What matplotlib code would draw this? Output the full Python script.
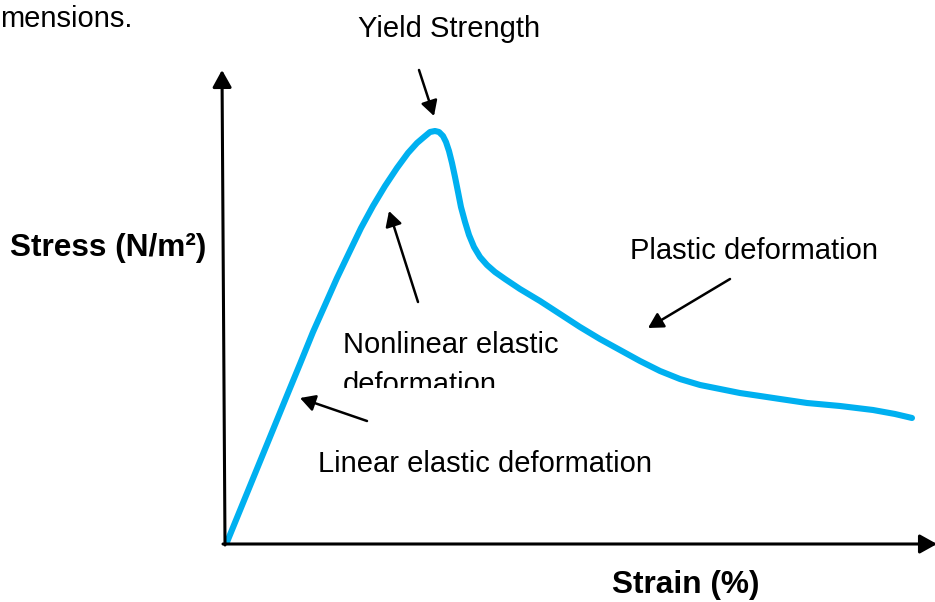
import matplotlib
matplotlib.use("Agg")
import matplotlib.pyplot as plt
from matplotlib.patches import FancyArrowPatch
from matplotlib.transforms import Bbox, TransformedBbox

# ---- data (arbitrary units: strain 0..100, stress 0..100) ----
strain = [0.29, 9.0, 10.71, 12.57, 14.29, 16.0, 17.71, 19.43, 21.14, 22.86,
          24.57, 26.14, 27.43, 28.43, 29.29, 30.0, 30.57, 31.14, 31.57, 32.0,
          32.43, 32.86, 33.29, 33.71, 34.29, 34.86, 35.57, 36.43, 37.43, 38.57,
          40.0, 42.14, 45.0, 47.86, 50.71, 53.57, 56.43, 59.29, 62.14, 65.0,
          67.86, 70.71, 73.57, 76.43, 79.29, 83.14, 87.86, 92.57, 95.71, 98.14]
stress = [0.21, 31.91, 38.09, 44.89, 50.64, 56.38, 61.70, 67.02, 71.70, 75.96,
          79.79, 82.98, 85.11, 86.38, 87.45, 87.66, 87.45, 86.60, 85.32, 83.40,
          80.85, 77.87, 74.68, 71.49, 68.30, 65.53, 62.98, 60.85, 59.15, 57.66,
          56.17, 54.04, 51.49, 48.72, 45.96, 43.40, 41.06, 38.72, 36.60, 34.89,
          33.62, 32.77, 31.91, 31.28, 30.64, 29.79, 29.15, 28.30, 27.45, 26.60]

x_label = "Strain (%)"
y_label = "Stress (N/m²)"
label_yield = "Yield Strength"
label_nonlinear_1 = "Nonlinear elastic"
label_nonlinear_2 = "deformation"
label_plastic = "Plastic deformation"
label_linear = "Linear elastic deformation"
header_text = "mensions."

W, H = 935, 602
plt.rcParams["font.family"] = ["Liberation Sans", "DejaVu Sans"]
fig = plt.figure(figsize=(W / 100, H / 100), dpi=100)

# axes frame: origin at pixel (225,543), 700 px wide, 470 px tall
ax = fig.add_axes([225 / W, (H - 543) / H, 700 / W, 470 / H])
ax.set_xlim(0, 100)
ax.set_ylim(0, 100)
ax.axis("off")

ax.plot(strain, stress, color="#00B0F0", lw=4.4, solid_capstyle="round",
        solid_joinstyle="round", clip_on=False, zorder=3)


def fp(x, y):
    """pixel (top-left origin) -> figure pixels"""
    return (x, H - y)


def arrow(x0, y0, x1, y1, ms=20, lw=1.8):
    fig.add_artist(FancyArrowPatch(
        posA=fp(x0, y0), posB=fp(x1, y1), transform=None,
        arrowstyle="-|>,head_length=0.45,head_width=0.25",
        mutation_scale=ms, lw=lw, color="black",
        shrinkA=0, shrinkB=0))


# axis arrows
arrow(225, 545, 222, 70, ms=23, lw=2.2)
arrow(223, 544, 937, 544, ms=23, lw=2.2)

# annotation arrows
arrow(419, 70, 434, 116)
arrow(418, 302, 389, 211)
arrow(730, 279, 648, 328)
arrow(367, 421, 300, 398)

fs = 21
fsb = 22.8


def txt(x, y, s, **kw):
    return fig.text(x / W, 1 - y / H, s, va="baseline", ha="left", **kw)


txt(0, 27, header_text, fontsize=fs)
txt(358, 37, label_yield, fontsize=fs)
txt(10, 256, y_label, fontsize=fsb, fontweight="bold")
txt(612, 593, x_label, fontsize=fsb, fontweight="bold")
txt(630, 259, label_plastic, fontsize=fs)
txt(318, 472, label_linear, fontsize=fs)
txt(343, 353, label_nonlinear_1, fontsize=fs)
t = txt(343, 393, label_nonlinear_2, fontsize=fs)
t.set_clip_box(TransformedBbox(Bbox([[0, (H - 388) / H], [1, 1]]), fig.transFigure))
t.set_clip_on(True)

fig.savefig("out.png", dpi=100)
